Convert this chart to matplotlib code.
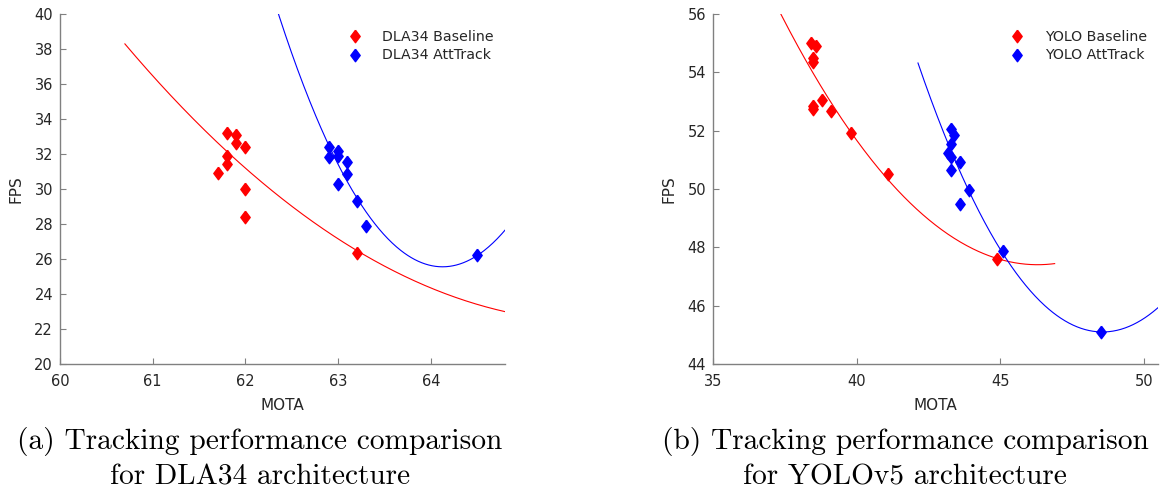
import numpy as np
import matplotlib
matplotlib.use("Agg")
import matplotlib.pyplot as plt

# ---- data (a) DLA34 ----
dla_base_mota = [61.7, 61.8, 61.9, 61.9, 62.0, 61.8, 61.8, 62.0, 62.0, 63.2]
dla_base_fps = [30.93, 33.18, 33.09, 32.61, 32.38, 31.89, 31.43, 29.98, 28.42, 26.36]
dla_att_mota = [62.9, 63.0, 63.0, 62.9, 63.1, 63.1, 63.0, 63.2, 63.3, 64.5]
dla_att_fps = [32.42, 32.19, 31.89, 31.81, 31.53, 30.84, 30.29, 29.33, 27.90, 26.23]
# trend line of the DLA34 baseline
dla_base_trend_mota = [60.70, 61.40, 63.20, 63.56, 64.80]
dla_base_trend_fps = [38.34, 34.13, 26.50, 25.47, 22.97]

# ---- data (b) YOLOv5 ----
yolo_base_mota = [38.4, 38.6, 38.5, 38.5, 38.8, 38.5, 38.5, 39.1, 39.8, 41.1, 44.9]
yolo_base_fps = [54.99, 54.90, 54.48, 54.34, 53.05, 52.84, 52.74, 52.68, 51.93, 50.50, 47.59]
yolo_att_mota = [43.3, 43.4, 43.3, 43.2, 43.3, 43.6, 43.3, 43.9, 43.6, 45.1, 48.5]
yolo_att_fps = [52.06, 51.85, 51.54, 51.24, 51.11, 50.94, 50.65, 49.96, 49.49, 47.88, 45.09]

labels_a = ["DLA34 Baseline", "DLA34 AttTrack"]
labels_b = ["YOLO Baseline", "YOLO AttTrack"]
caption_a = "(a) Tracking performance comparison\nfor DLA34 architecture"
caption_b = "(b) Tracking performance comparison\nfor YOLOv5 architecture"

diamond = [(0, 1), (0.75, 0), (0, -1), (-0.75, 0), (0, 1)]
axis_gray = "#808080"
text_gray = "#262626"

fig = plt.figure(figsize=(11.63, 4.95), dpi=100)
ax1 = fig.add_axes([60/1163, 1-364/495, 445/1163, 350/495])
ax2 = fig.add_axes([713/1163, 1-364/495, 445/1163, 350/495])


def panel(ax, bx, by, axx, ay, labels, bspan, aspan, xlim, ylim, xticks, yticks,
          btrend=None):
    bfit = btrend if btrend is not None else (bx, by)
    for (x, y, col, span) in [(bfit[0], bfit[1], "red", bspan), (axx, ay, "blue", aspan)]:
        c = np.polyfit(x, y, 2)
        xs = np.linspace(span[0], span[1], 300)
        ax.plot(xs, np.polyval(c, xs), color=col, lw=0.8)
    ax.plot(bx, by, ls="none", marker=diamond, ms=9, color="red", mec="red", label=labels[0])
    ax.plot(axx, ay, ls="none", marker=diamond, ms=9, color="blue", mec="blue", label=labels[1])
    ax.set_xlim(*xlim)
    ax.set_ylim(*ylim)
    ax.set_xticks(xticks)
    ax.set_yticks(yticks)
    for s in ["top", "right"]:
        ax.spines[s].set_visible(False)
    for s in ["left", "bottom"]:
        ax.spines[s].set_color(axis_gray)
        ax.spines[s].set_linewidth(1.0)
    ax.tick_params(direction="in", length=4, width=0.8, color=axis_gray,
                   labelcolor=text_gray, labelsize=10.5)
    ax.tick_params(axis="x", pad=7)
    ax.tick_params(axis="y", pad=5)
    ax.set_xlabel("MOTA", fontsize=11, color=text_gray, labelpad=7)
    ax.set_ylabel("FPS", fontsize=11, color=text_gray, labelpad=8)
    leg = ax.legend(loc="upper right", frameon=False, fontsize=10.2,
                    handlelength=1.5, handletextpad=1.2, labelspacing=0.3,
                    bbox_to_anchor=(1.004, 0.99))
    for t in leg.get_texts():
        t.set_color(text_gray)


panel(ax1, dla_base_mota, dla_base_fps, dla_att_mota, dla_att_fps, labels_a,
      (60.7, 64.8), (62.0, 64.8), (60, 64.8), (20, 40),
      [60, 61, 62, 63, 64], list(range(20, 41, 2)),
      btrend=(dla_base_trend_mota, dla_base_trend_fps))
panel(ax2, yolo_base_mota, yolo_base_fps, yolo_att_mota, yolo_att_fps, labels_b,
      (36.0, 46.9), (42.14, 50.5), (35, 50.5), (44, 56),
      [35, 40, 45, 50], list(range(44, 57, 2)))

fig.text(260/1163, 1-459/495, caption_a, ha="center", va="center",
         fontsize=21.2, family="cmr10", linespacing=1.38, color="black")
fig.text(905/1163, 1-459/495, caption_b, ha="center", va="center",
         fontsize=21.2, family="cmr10", linespacing=1.38, color="black")

fig.savefig("out.png", dpi=100)
